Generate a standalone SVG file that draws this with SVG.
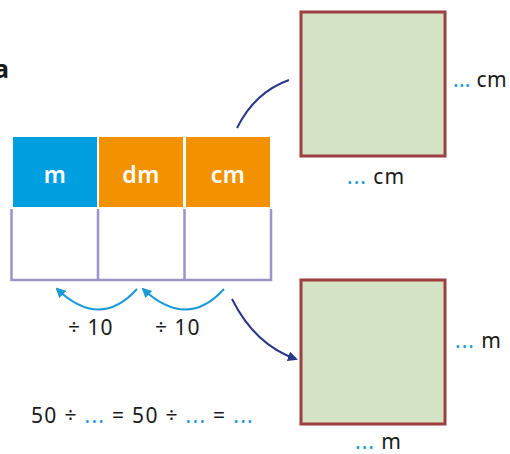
<svg xmlns="http://www.w3.org/2000/svg" width="510" height="454" viewBox="0 0 510 454">
<style>
text{font-family:"Noto Sans","Liberation Sans",sans-serif;fill:#1a1a1a}
.hd{fill:#fff;font-size:23px;font-weight:600;text-anchor:middle;letter-spacing:0.5px}
.t{font-size:21px;letter-spacing:1px}
.b{fill:#1a9ad6}
.sq{fill:#d5e3c5;stroke:#9e3f3f;stroke-width:3}
.cell{fill:none;stroke:#9b93c9;stroke-width:2.5}
</style>
<defs>
<marker id="ab" viewBox="0 0 10 10" refX="8" refY="5" markerWidth="5" markerHeight="5" orient="auto"><path d="M0,0L10,5L0,10z" fill="#1a9ad6"/></marker>
<marker id="an" viewBox="0 0 10 10" refX="8" refY="5" markerWidth="5" markerHeight="5" orient="auto"><path d="M0,0L10,5L0,10z" fill="#2a3788"/></marker>
</defs>
<text x="-6" y="78" style="font-size:25px;font-weight:700">a</text>
<g id="table">
<rect x="13" y="137" width="84" height="70" fill="#009fe0"/>
<rect x="99" y="137" width="84" height="70" fill="#f39200"/>
<rect x="186" y="137" width="84" height="70" fill="#f39200"/>
<text class="hd" x="55" y="183">m</text>
<text class="hd" x="141" y="183">dm</text>
<text class="hd" x="228" y="183">cm</text>
<path class="cell" d="M11.5,209V280H271V209M98,209V280M184.5,209V280"/>
</g>
<g id="connectors" fill="none" stroke-width="2">
<path d="M137,289Q100,330 57,289" stroke="#1a9ad6" marker-end="url(#ab)"/>
<path d="M224,289Q187,330 143,289" stroke="#1a9ad6" marker-end="url(#ab)"/>
<path d="M232,299Q255,345 296,359" stroke="#2a3788" marker-end="url(#an)"/>
<path d="M237,128Q255,92 289,80" stroke="#2a3788"/>
</g>
<g id="labels">
<text class="t" x="68" y="335">÷ 10</text>
<text class="t" x="155" y="335">÷ 10</text>
<text class="t" x="31" y="423" style="letter-spacing:1.3px">50 ÷ <tspan class="b">...</tspan> = 50 ÷ <tspan class="b">...</tspan> = <tspan class="b">...</tspan></text>
</g>
<g id="square-top">
<rect class="sq" x="301" y="12" width="144" height="144"/>
<text class="t" x="453" y="87" style="letter-spacing:0.3px"><tspan class="b">...</tspan> cm</text>
<text class="t" x="347" y="184"><tspan class="b">...</tspan> cm</text>
</g>
<g id="square-bottom">
<rect class="sq" x="301" y="280" width="144" height="144"/>
<text class="t" x="455" y="348"><tspan class="b">...</tspan> m</text>
<text class="t" x="355" y="449"><tspan class="b">...</tspan> m</text>
</g>
</svg>
